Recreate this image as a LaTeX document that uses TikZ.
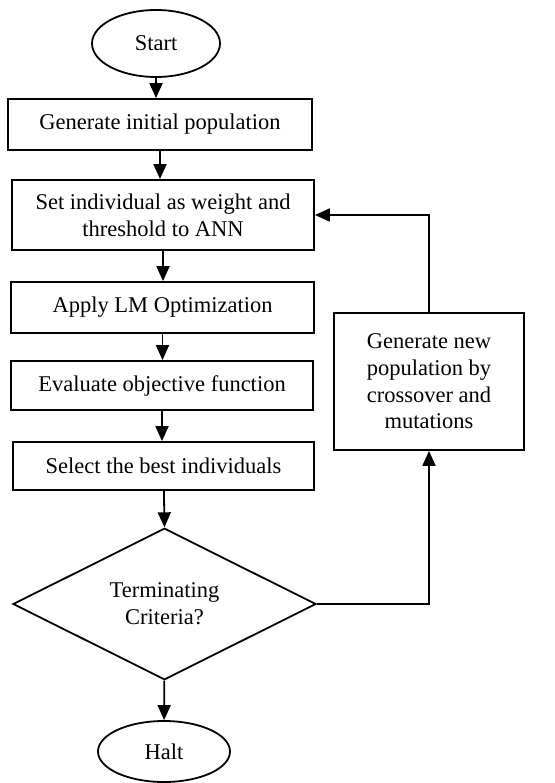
\documentclass[tikz,border=0pt]{standalone}
\usepackage{fontspec}
\setmainfont{Liberation Serif}
\usetikzlibrary{shapes,arrows.meta,calc}

\begin{document}
\begin{tikzpicture}[x=1pt,y=-1pt,line width=1.8pt,
  font=\fontsize{22.5}{26.7}\selectfont,
  procbox/.style={draw,rectangle,inner sep=0pt,align=center},
  termin/.style={draw,ellipse,inner sep=0pt},
  decide/.style={draw,diamond,inner sep=0pt,align=center},
  flow/.style={-{Triangle[width=13pt,length=15pt]}}]
\useasboundingbox (0,0) rectangle (554,783);
% main column
\node[termin,minimum width=128pt,minimum height=67pt] (start) at (156,43.5) {Start};
\node[procbox,minimum width=304pt,minimum height=51pt] (geninit) at (160,124.5) {Generate initial population};
\node[procbox,minimum width=302pt,minimum height=70pt] (setind) at (163,215) {Set individual as weight and\\threshold to ANN};
\node[procbox,minimum width=303pt,minimum height=51pt] (applylm) at (162.5,307.5) {Apply LM Optimization};
\node[procbox,minimum width=302pt,minimum height=49pt] (evalobj) at (162,385.5) {Evaluate objective function};
\node[procbox,minimum width=301pt,minimum height=48pt] (selbest) at (163.5,466) {Select the best individuals};
\node[decide,minimum width=303pt,minimum height=144pt] (term) at (164.5,604) {Terminating\\Criteria?};
\node[termin,minimum width=132pt,minimum height=61pt] (halt) at (164,751.5) {Halt};
% loop back
\node[procbox,minimum width=190pt,minimum height=137pt] (gennew) at (429,381.5) {Generate new\\population by\\crossover and\\mutations};

\draw[flow] (start) -- (start |- geninit.north);
\draw[flow] (geninit) -- (geninit |- setind.north);
\draw[flow] (setind) -- (setind |- applylm.north);
\draw[flow] (applylm) -- (applylm |- evalobj.north);
\draw[flow] (evalobj) -- (evalobj |- selbest.north);
\draw[flow] (selbest) -- (term.north);
\draw[flow] (term) -- (halt);
\draw[flow] (term.east) -| (gennew.south);
\draw[flow] (gennew.north) |- (setind.east);
\end{tikzpicture}
\end{document}
